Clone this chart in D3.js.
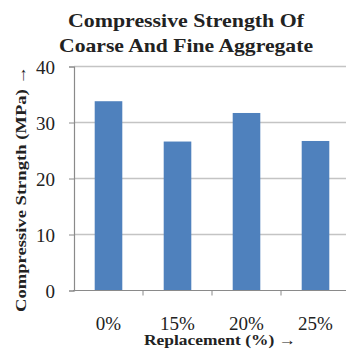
<!DOCTYPE html>
<html><head><meta charset="utf-8">
<script src="https://cdn.jsdelivr.net/npm/d3@7"></script>
<style>body{margin:0;background:#fff}svg{display:block}</style>
</head><body>
<script>
const categories = ["0%", "15%", "20%", "25%"];
const values = [33.8, 26.6, 31.7, 26.7];
const yTicks = [0, 10, 20, 30, 40];
const titleLines = ["Compressive Strength Of", "Coarse And Fine Aggregate"];
const xTitle = "Replacement (%) \u2192";
const yTitle = "Compressive Strngth (MPa) \u2192";

const W = 346, H = 349;
const svg = d3.select("body").append("svg").attr("width", W).attr("height", H);
const serif = '"Liberation Serif", "Times New Roman", serif';

const x = d3.scaleBand().domain(categories).range([74, 350]).paddingInner(0.6).paddingOuter(0.3);
const y = d3.scaleLinear().domain([0, 40]).range([290.5, 66.5]);

// gridlines
svg.append("g").selectAll("line").data(yTicks.filter(d => d > 0)).join("line")
  .attr("x1", 74).attr("x2", W).attr("y1", d => y(d)).attr("y2", d => y(d))
  .attr("stroke", "#c4c4c4").attr("stroke-width", 1.5);

// bars
svg.append("g").selectAll("rect").data(values).join("rect")
  .attr("x", (d, i) => x(categories[i])).attr("width", x.bandwidth())
  .attr("y", d => y(d)).attr("height", d => y(0) - y(d))
  .attr("fill", "#4f81bd");

// y axis
const yAxis = svg.append("g").attr("transform", "translate(74,0)")
  .call(d3.axisLeft(y).tickValues(yTicks).tickSize(5).tickPadding(14));
yAxis.select(".domain").attr("stroke", "#8a8a8a").attr("stroke-width", 1.2);
yAxis.selectAll(".tick line").attr("stroke", "#8a8a8a");
yAxis.selectAll("text").style("font-family", serif).style("font-size", "19px").attr("fill", "#222").attr("dy", "0.36em");

// x axis
const xAxisG = svg.append("g").attr("transform", `translate(0,${y(0)})`);
xAxisG.append("line").attr("x1", 73).attr("x2", W).attr("stroke", "#8a8a8a").attr("stroke-width", 1.2);
const step = x.step();
const bounds = categories.slice(1).map(c => x(c) - step * x.paddingInner() / 2);
xAxisG.selectAll(".xt").data(bounds).join("line").attr("class", "xt")
  .attr("x1", d => d).attr("x2", d => d).attr("y1", 0).attr("y2", 5).attr("stroke", "#8a8a8a");
xAxisG.selectAll(".xl").data(categories).join("text").attr("class", "xl")
  .attr("x", d => x(d) + x.bandwidth() / 2).attr("y", 39)
  .attr("text-anchor", "middle").style("font-family", serif).style("font-size", "19px").attr("fill", "#222")
  .text(d => d);

// titles
svg.selectAll(".tt").data(titleLines).join("text").attr("class", "tt")
  .attr("x", 186).attr("y", (d, i) => 27 + i * 25).attr("text-anchor", "middle")
  .style("font-family", serif).style("font-weight", "bold").style("font-size", "19px").attr("fill", "#222")
  .attr("textLength", (d, i) => i === 0 ? 236 : 254).attr("lengthAdjust", "spacingAndGlyphs")
  .text(d => d);

svg.append("text").attr("x", 220).attr("y", 345).attr("text-anchor", "middle")
  .style("font-family", serif).style("font-weight", "bold").style("font-size", "15px").attr("fill", "#222")
  .attr("textLength", 152).attr("lengthAdjust", "spacingAndGlyphs").text(xTitle);

svg.append("text").attr("transform", "translate(26,189) rotate(-90)").attr("text-anchor", "middle")
  .style("font-family", serif).style("font-weight", "bold").style("font-size", "15px").attr("fill", "#222")
  .attr("textLength", 246).attr("lengthAdjust", "spacingAndGlyphs").text(yTitle);
</script>
</body></html>
